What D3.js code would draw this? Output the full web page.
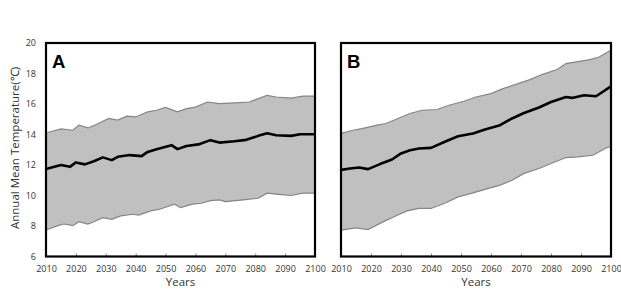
<!DOCTYPE html>
<html><head><meta charset="utf-8">
<script src="https://cdn.jsdelivr.net/npm/d3@7"></script>
<style>html,body{margin:0;padding:0;background:#fff;}svg{display:block;}</style>
</head><body>
<svg id="c" width="621" height="297"></svg>
<script>
// ---- Data ----
const yTicks = [6, 8, 10, 12, 14, 16, 18, 20];
const xTicks = [2010, 2020, 2030, 2040, 2050, 2060, 2070, 2080, 2090, 2100];

// Panel A
const aUpperYears = [2010,2015,2019,2021,2024,2027,2031,2034,2037,2040,2044,2047,2050,2054,2057,2060,2064,2068,2073,2078,2081,2084,2087,2092,2096,2100];
const aUpper      = [14.1,14.37,14.28,14.61,14.43,14.67,15.05,14.94,15.2,15.15,15.48,15.59,15.77,15.48,15.7,15.8,16.13,16.03,16.07,16.13,16.35,16.57,16.46,16.39,16.52,16.52];
const aMeanYears  = [2010,2015,2018,2020,2023,2026,2029,2032,2034,2038,2042,2044,2047,2052,2054,2057,2061,2065,2068,2073,2077,2081,2084,2087,2092,2095,2100];
const aMean       = [11.74,12.0,11.88,12.17,12.04,12.25,12.5,12.32,12.54,12.65,12.58,12.86,13.04,13.3,13.04,13.25,13.35,13.63,13.47,13.56,13.65,13.91,14.08,13.95,13.91,14.02,14.02];
const aLowerYears = [2010,2014,2016,2019,2021,2024,2026,2029,2032,2035,2039,2041,2045,2048,2053,2055,2059,2062,2065,2068,2070,2076,2081,2084,2087,2092,2096,2100];
const aLower      = [7.74,8.02,8.13,8.02,8.28,8.13,8.28,8.55,8.44,8.66,8.77,8.72,8.99,9.1,9.43,9.2,9.43,9.49,9.66,9.71,9.6,9.71,9.82,10.15,10.09,10.0,10.15,10.15];

// Panel B
const bUpperYears = [2010,2014,2017,2022,2025,2029,2033,2037,2042,2046,2051,2055,2060,2064,2068,2073,2077,2082,2085,2088,2093,2096,2100];
const bUpper      = [14.07,14.28,14.39,14.61,14.72,15.05,15.38,15.59,15.64,15.92,16.18,16.46,16.68,17.01,17.27,17.6,17.93,18.26,18.65,18.75,18.91,19.08,19.52];
const bMeanYears  = [2010,2013,2016,2019,2023,2027,2030,2033,2036,2040,2045,2049,2054,2058,2063,2067,2071,2076,2080,2085,2087,2091,2095,2100];
const bMean       = [11.68,11.77,11.84,11.73,12.06,12.36,12.76,12.97,13.08,13.12,13.56,13.89,14.07,14.33,14.61,15.05,15.41,15.77,16.13,16.46,16.4,16.57,16.51,17.15];
const bLowerYears = [2010,2015,2019,2024,2028,2032,2036,2040,2045,2049,2054,2058,2063,2067,2071,2076,2080,2085,2089,2094,2098,2100];
const bLower      = [7.73,7.88,7.77,8.27,8.64,8.99,9.15,9.15,9.52,9.91,10.17,10.4,10.68,11.0,11.45,11.77,12.1,12.49,12.53,12.64,13.08,13.23];

const panels = [
  {label: "A", left: 46, right: 315, upY: aUpperYears, up: aUpper, mY: aMeanYears, m: aMean, loY: aLowerYears, lo: aLower},
  {label: "B", left: 341, right: 611, upY: bUpperYears, up: bUpper, mY: bMeanYears, m: bMean, loY: bLowerYears, lo: bLower}
];

const svg = d3.select("#c");
const plotTop = 43, plotBottom = 256.5;
const font = "'Open Sans', Lato, sans-serif";
const y = d3.scaleLinear().domain([6, 20]).range([plotBottom, plotTop]);

panels.forEach(p => {
  const x = d3.scaleLinear().domain([2010, 2100]).range([p.left, p.right]);
  const g = svg.append("g");

  const upPts = p.upY.map((yr, i) => [x(yr), y(p.up[i])]);
  const loPts = p.loY.map((yr, i) => [x(yr), y(p.lo[i])]);
  const poly = upPts.concat(loPts.slice().reverse());
  g.append("path")
    .attr("d", "M" + poly.map(d => d.join(",")).join("L") + "Z")
    .attr("fill", "#c0c0c0").attr("stroke", "none");

  const line = d3.line().x(d => d[0]).y(d => d[1]);
  g.append("path").attr("d", line(upPts)).attr("fill", "none").attr("stroke", "#858585").attr("stroke-width", 1.2);
  g.append("path").attr("d", line(loPts)).attr("fill", "none").attr("stroke", "#858585").attr("stroke-width", 1.2);

  const mPts = p.mY.map((yr, i) => [x(yr), y(p.m[i])]);
  g.append("path").attr("d", line(mPts)).attr("fill", "none").attr("stroke", "#000").attr("stroke-width", 2.6).attr("stroke-linejoin", "round");

  const xAxis = d3.axisBottom(x).tickValues(xTicks).tickFormat(d3.format("d")).tickSizeInner(-3).tickSizeOuter(0).tickPadding(9);
  const gx = g.append("g").attr("transform", `translate(0,${plotBottom})`).call(xAxis);
  gx.select(".domain").remove();
  gx.selectAll("line").attr("stroke", "#555").attr("stroke-width", 0.7);
  gx.selectAll("text").attr("font-family", font).attr("font-size", 9).attr("fill", "#333");

  if (p.label === "A") {
    const yAxis = d3.axisLeft(y).tickValues(yTicks).tickSizeInner(0).tickSizeOuter(0).tickPadding(10);
    const gy = g.append("g").attr("transform", `translate(${p.left},0)`).call(yAxis);
    gy.select(".domain").remove();
    gy.selectAll("text").attr("font-family", font).attr("font-size", 9).attr("fill", "#333");
  }

  g.append("rect").attr("x", p.left).attr("y", plotTop).attr("width", p.right - p.left).attr("height", plotBottom - plotTop)
    .attr("fill", "none").attr("stroke", "#000").attr("stroke-width", 2.2);

  g.append("text").attr("x", p.left + 6).attr("y", plotTop + 24.5).text(p.label)
    .attr("font-family", "'Liberation Sans', Arial, sans-serif").attr("font-weight", "bold").attr("font-size", 18.5).attr("fill", "#000");

  g.append("text").attr("x", (p.left + p.right) / 2).attr("y", 286).attr("text-anchor", "middle").text("Years")
    .attr("font-family", font).attr("font-size", 11.5).attr("fill", "#333");
});

svg.append("text").attr("transform", `translate(19,${148}) rotate(-90)`).attr("text-anchor", "middle")
  .text("Annual Mean Temperature(℃)").attr("font-family", font).attr("font-size", 11.5).attr("fill", "#333");
</script>
</body></html>
